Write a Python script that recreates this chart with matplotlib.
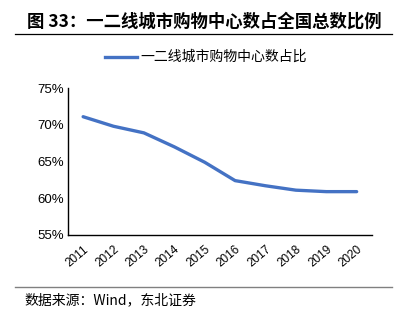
import matplotlib
matplotlib.use('Agg')
import matplotlib.pyplot as plt
from matplotlib.lines import Line2D

plt.rcParams['font.family'] = ['Noto Sans CJK SC', 'DejaVu Sans']

years = ['2011', '2012', '2013', '2014', '2015', '2016', '2017', '2018', '2019', '2020']
share = [71.1, 69.8, 68.9, 67.0, 64.9, 62.4, 61.7, 61.1, 60.9, 60.9]
yticks = [55, 60, 65, 70, 75]

fig = plt.figure(figsize=(4.02, 3.25), dpi=100)
ax = fig.add_axes([0.169, 0.277, 0.756, 0.452])

x = list(range(len(years)))
ax.plot(x, share, color='#4472C4', linewidth=2.4, solid_capstyle='round')
ax.set_xlim(-0.5, len(years) - 0.5)
ax.set_ylim(55, 75)
ax.set_yticks(yticks)
ax.set_yticklabels([f'{v}%' for v in yticks], fontsize=9.5, family=['Liberation Sans'])
ax.set_xticks(x)
ax.set_xticklabels(years, rotation=40, fontsize=8.5, family=['Liberation Sans'],
                   ha='right', va='top', rotation_mode='anchor')
ax.tick_params(axis='both', length=0, pad=3)
ax.tick_params(axis='x', pad=6)
for s in ['top', 'right']:
    ax.spines[s].set_visible(False)
for s in ['left', 'bottom']:
    ax.spines[s].set_color('black')
    ax.spines[s].set_linewidth(1.0)

# title
fig.text(0.067, 0.935, '图 33：一二线城市购物中心数占全国总数比例', fontsize=12.5,
         fontweight='bold', ha='left', va='center')
fig.add_artist(Line2D([0.037, 0.975], [0.895, 0.895], color='black', linewidth=0.9))

# legend
fig.add_artist(Line2D([0.262, 0.342], [0.825, 0.825], color='#4472C4', linewidth=2.4))
fig.text(0.348, 0.825, '一二线城市购物中心数占比', fontsize=10, ha='left', va='center')

# source
fig.add_artist(Line2D([0.037, 0.975], [0.117, 0.117], color='#808080', linewidth=1.0))
fig.text(0.062, 0.077, '数据来源：Wind，东北证券', fontsize=10, ha='left', va='center')

fig.savefig('out.png', dpi=100)
